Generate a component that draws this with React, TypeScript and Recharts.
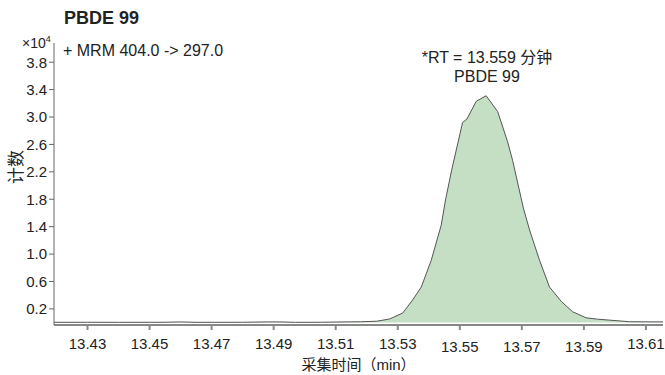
import { ComposedChart, Area, XAxis, YAxis, Label } from "recharts";

// acquisition time (min)
const times = [
  13.4192, 13.43, 13.44, 13.455, 13.46, 13.465, 13.48, 13.488, 13.492, 13.497, 13.505, 13.513,
  13.518, 13.5232, 13.5274, 13.5316, 13.5348, 13.5376, 13.5408, 13.544, 13.5454, 13.5474,
  13.5509, 13.5523, 13.5553, 13.5585, 13.5622, 13.5654, 13.567, 13.5705, 13.5725, 13.5757,
  13.5789, 13.5827, 13.5863, 13.5907, 13.5944, 13.6047, 13.6155,
];
// counts (x10^4)
const counts = [
  0.004, 0.005, 0.004, 0.005, 0.01, 0.004, 0.005, 0.01, 0.01, 0.004, 0.005, 0.01,
  0.012, 0.02, 0.053, 0.14, 0.33, 0.52, 0.91, 1.42, 1.79, 2.23,
  2.92, 2.97, 3.23, 3.31, 3.08, 2.64, 2.37, 1.67, 1.35, 0.91,
  0.52, 0.31, 0.16, 0.07, 0.05, 0.013, 0.01,
];
const xTicks = [13.43, 13.45, 13.47, 13.49, 13.51, 13.53, 13.55, 13.57, 13.59, 13.61];
const yTicks = [0.2, 0.6, 1.0, 1.4, 1.8, 2.2, 2.6, 3.0, 3.4, 3.8];
// these labels sit a little lower in the original
const lowTicks = [13.55, 13.57, 13.59];

const data = times.map((t, i) => ({ t, c: counts[i] }));

const font = "'Liberation Sans', Arial, 'Noto Sans CJK SC', sans-serif";

const XTick = (props: any) => {
  const { x, y, payload } = props;
  const low = lowTicks.some((v) => Math.abs(v - payload.value) < 1e-6);
  return (
    <text x={x} y={y + (low ? 20 : 17)} textAnchor="middle" fill="#222" fontSize={15} fontFamily={font}>
      {payload.value.toFixed(2)}
    </text>
  );
};

export default function App() {
  return (
    <div style={{ position: "absolute", left: 0, top: 0, width: 665, height: 375, fontFamily: font, color: "#222" }}>
      <ComposedChart width={665} height={375} data={data} margin={{ top: 43, right: 2, bottom: 0, left: 0 }}>
        <XAxis
          dataKey="t"
          type="number"
          domain={[13.4192, 13.6155]}
          ticks={xTicks}
          allowDataOverflow
          height={50}
          stroke="#888"
          strokeWidth={2}
          tickSize={5}
          tick={<XTick />}
        >
          <Label value="采集时间（min）" position="insideBottom" offset={5} fill="#222" fontSize={15} fontFamily={font} />
        </XAxis>
        <YAxis
          type="number"
          domain={[-0.035, 4.08]}
          ticks={yTicks}
          allowDataOverflow
          width={54}
          stroke="#666"
          tickSize={5}
          tick={{ fill: "#222", fontSize: 15, fontFamily: font }}
          tickFormatter={(v: number) => v.toFixed(1)}
        >
          <Label value="计数" angle={-90} position="insideLeft" offset={16} fill="#222" fontSize={17} fontFamily={font} />
        </YAxis>
        <Area
          dataKey="c"
          type="linear"
          stroke="#555"
          strokeWidth={1}
          fill="#c5dfc5"
          fillOpacity={1}
          isAnimationActive={false}
        />
      </ComposedChart>
      <div style={{ position: "absolute", left: 64, top: 8, fontSize: 18, fontWeight: "bold" }}>PBDE 99</div>
      <div style={{ position: "absolute", left: 22, top: 34, fontSize: 14 }}>
        ×10<sup style={{ fontSize: 9 }}>4</sup>
      </div>
      <div style={{ position: "absolute", left: 63, top: 42, fontSize: 16 }}>+ MRM 404.0 -&gt; 297.0</div>
      <div style={{ position: "absolute", left: 387, width: 200, top: 48, fontSize: 16, textAlign: "center", lineHeight: "19px" }}>
        *RT = 13.559 分钟
        <br />
        PBDE 99
      </div>
    </div>
  );
}
